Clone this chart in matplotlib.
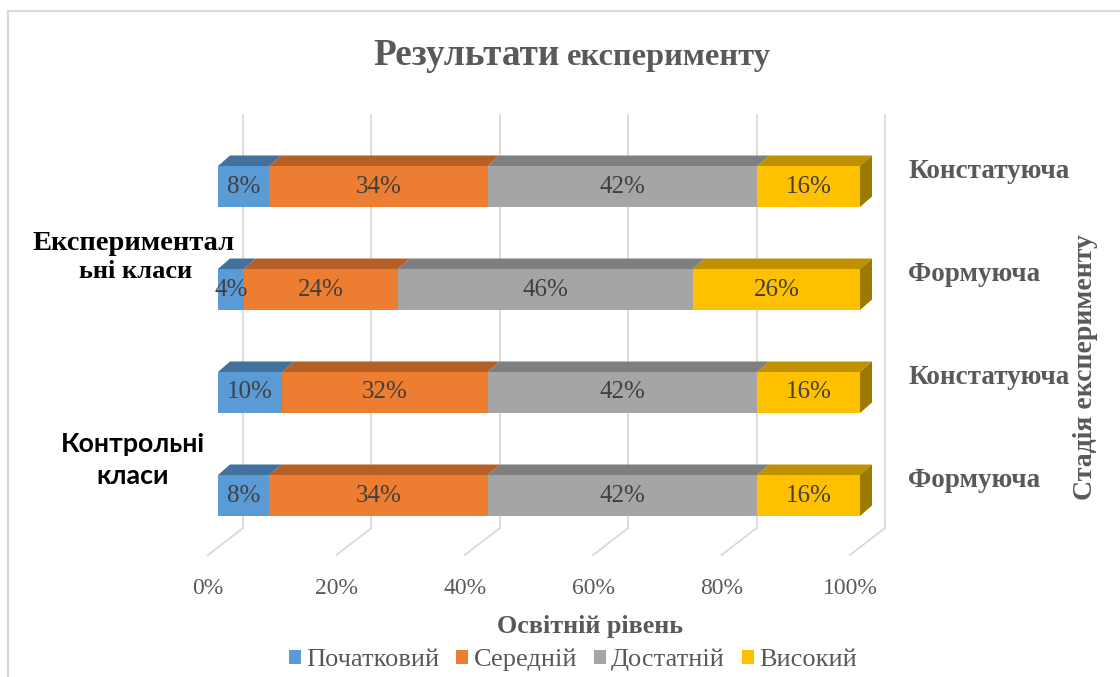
import matplotlib
matplotlib.use("Agg")
import matplotlib.pyplot as plt
from matplotlib.patches import Polygon, Patch
from matplotlib.lines import Line2D
import numpy as np

# ---------------- data ----------------
stages = ['Формуюча', 'Констатуюча', 'Формуюча', 'Констатуюча']   # bottom -> top
groups = ['Контрольні\nкласи', 'Експериментал\nьні класи']          # bottom -> top
series_names = ['Початковий', 'Середній', 'Достатній', 'Високий']
pochatkovyi = [8, 10, 4, 8]
serednii = [34, 32, 24, 34]
dostatnii = [42, 42, 46, 42]
vysokyi = [16, 16, 26, 16]
ticks = [0, 20, 40, 60, 80, 100]
tick_labels = ['0%', '20%', '40%', '60%', '80%', '100%']
title1 = 'Результати'
title2 = 'експерименту'
xlabel = 'Освітній рівень'
ylabel_right = 'Стадія експерименту'

front_colors = ['#5B9BD5', '#ED7D31', '#A5A5A5', '#FFC000']
top_colors = ['#41719C', '#B55E25', '#7F7F7F', '#BF9000']
side_color = '#9C7A00'
grid_color = '#D9D9D9'
txt_gray = '#595959'
val_gray = '#404040'

W, H = 1120, 677
fig = plt.figure(figsize=(W / 100, H / 100), dpi=100)
ax = fig.add_axes([0, 0, 1, 1])

# pixel mapping (front plane of bars)
X0, SX = 218.0, 6.42      # pixel of 0%, pixels per 1%
Y0, SY = 495.5, 103.0     # pixel (from top) of bottom category centre, pixels per category
ax.set_xlim(-X0 / SX, (W - X0) / SX)
ax.set_ylim((Y0 - H) / SY, Y0 / SY)
ax.axis('off')

def px2x(p):
    return p / SX

def px2y(p):
    return p / SY

bar_h = px2y(41)
dx, dy = px2x(12), px2y(10.5)

# ---- walls / gridlines ----
back_dx = px2x(25)
front_dx = -px2x(10)
y_top = px2y(Y0 - 115)
y_back = px2y(Y0 - 528)
y_front = px2y(Y0 - 555)
for t, lab in zip(ticks, tick_labels):
    ax.plot([t + back_dx, t + back_dx], [y_back, y_top], color=grid_color, lw=1.3, zorder=1)
    ax.plot([t + back_dx, t + front_dx], [y_back, y_front], color=grid_color, lw=1.3, zorder=1)
    ax.text(t + front_dx, px2y(Y0 - 588), lab, ha='center', va='center',
            fontsize=17, color=txt_gray, family='Liberation Serif', zorder=5)

# ---- bars ----
data = np.array([pochatkovyi, serednii, dostatnii, vysokyi])
ypos = np.arange(len(stages))
lefts = np.zeros(len(stages))
for s in range(data.shape[0]):
    vals = data[s]
    ax.barh(ypos, vals, left=lefts, height=bar_h, color=front_colors[s],
            edgecolor='none', zorder=3)
    for i, (l, v) in enumerate(zip(lefts, vals)):
        yt = ypos[i] + bar_h / 2
        ax.add_patch(Polygon([[l, yt], [l + dx, yt + dy], [l + v + dx, yt + dy], [l + v, yt]],
                             closed=True, facecolor=top_colors[s], edgecolor='none', zorder=2.5))
        ax.text(l + v / 2, ypos[i], f'{v}%', ha='center', va='center', fontsize=18,
                color=val_gray, family='Liberation Serif', zorder=6)
    lefts = lefts + vals

# side face of the bar end
for i in range(len(stages)):
    r = lefts[i]
    yb, yt = ypos[i] - bar_h / 2, ypos[i] + bar_h / 2
    ax.add_patch(Polygon([[r, yb], [r + dx, yb + dy], [r + dx, yt + dy], [r, yt]],
                         closed=True, facecolor=side_color, edgecolor='none', zorder=2.5))

# ---- right stage labels ----
for i, st in enumerate(stages):
    ax.text(px2x(908 - X0), ypos[i] + px2y(15), st, ha='left', va='center',
            fontsize=19.5, fontweight='bold', color=txt_gray, family='Liberation Serif')

# ---- left group labels ----
ax.text(px2x(133 - X0), px2y(Y0 - 460), groups[0], ha='center', va='center', fontsize=19.3,
        fontweight='bold', color='black', family=['Lato', 'Noto Sans', 'DejaVu Sans'],
        linespacing=1.35)
g1a, g1b = groups[1].split('\n')
ax.text(px2x(134 - X0), px2y(Y0 - 243), g1a, ha='center', va='center', fontsize=20.5,
        fontweight='bold', color='black', family='Liberation Serif')
ax.text(px2x(136 - X0), px2y(Y0 - 272), g1b, ha='center', va='center', fontsize=19,
        fontweight='bold', color='black', family='Liberation Serif')

# ---- title ----
fig.text(373 / W, 1 - 65 / H, title1, ha='left', va='baseline', fontsize=26.8,
         fontweight='bold', color=txt_gray, family='Liberation Serif')
fig.text(567 / W, 1 - 65 / H, title2, ha='left', va='baseline', fontsize=23.3,
         fontweight='bold', color=txt_gray, family='Liberation Serif')

# ---- axis titles ----
fig.text(590 / W, 1 - 627 / H, xlabel, ha='center', va='center', fontsize=18.8,
         fontweight='bold', color=txt_gray, family='Liberation Serif')
fig.text(1086 / W, 1 - 367 / H, ylabel_right, ha='center', va='center', rotation=90,
         fontsize=20, fontweight='bold', color=txt_gray, family='Liberation Serif')

# ---- legend ----
handles = [Patch(facecolor=c, edgecolor='none') for c in front_colors]
leg = fig.legend(handles, series_names, loc='center', bbox_to_anchor=(573 / W, 1 - 660 / H),
                 ncol=4, frameon=False, handlelength=0.45, handleheight=0.45,
                 handletextpad=0.2, columnspacing=0.65,
                 prop={'family': 'Liberation Serif', 'size': 19})
for t in leg.get_texts():
    t.set_color(txt_gray)

# ---- chart border ----
fig.add_artist(Line2D([8 / W, 8 / W], [0, 1 - 11 / H], color=grid_color, lw=1.5))
fig.add_artist(Line2D([8 / W, 1], [1 - 11 / H, 1 - 11 / H], color=grid_color, lw=1.5))

fig.savefig('out.png', dpi=100)
